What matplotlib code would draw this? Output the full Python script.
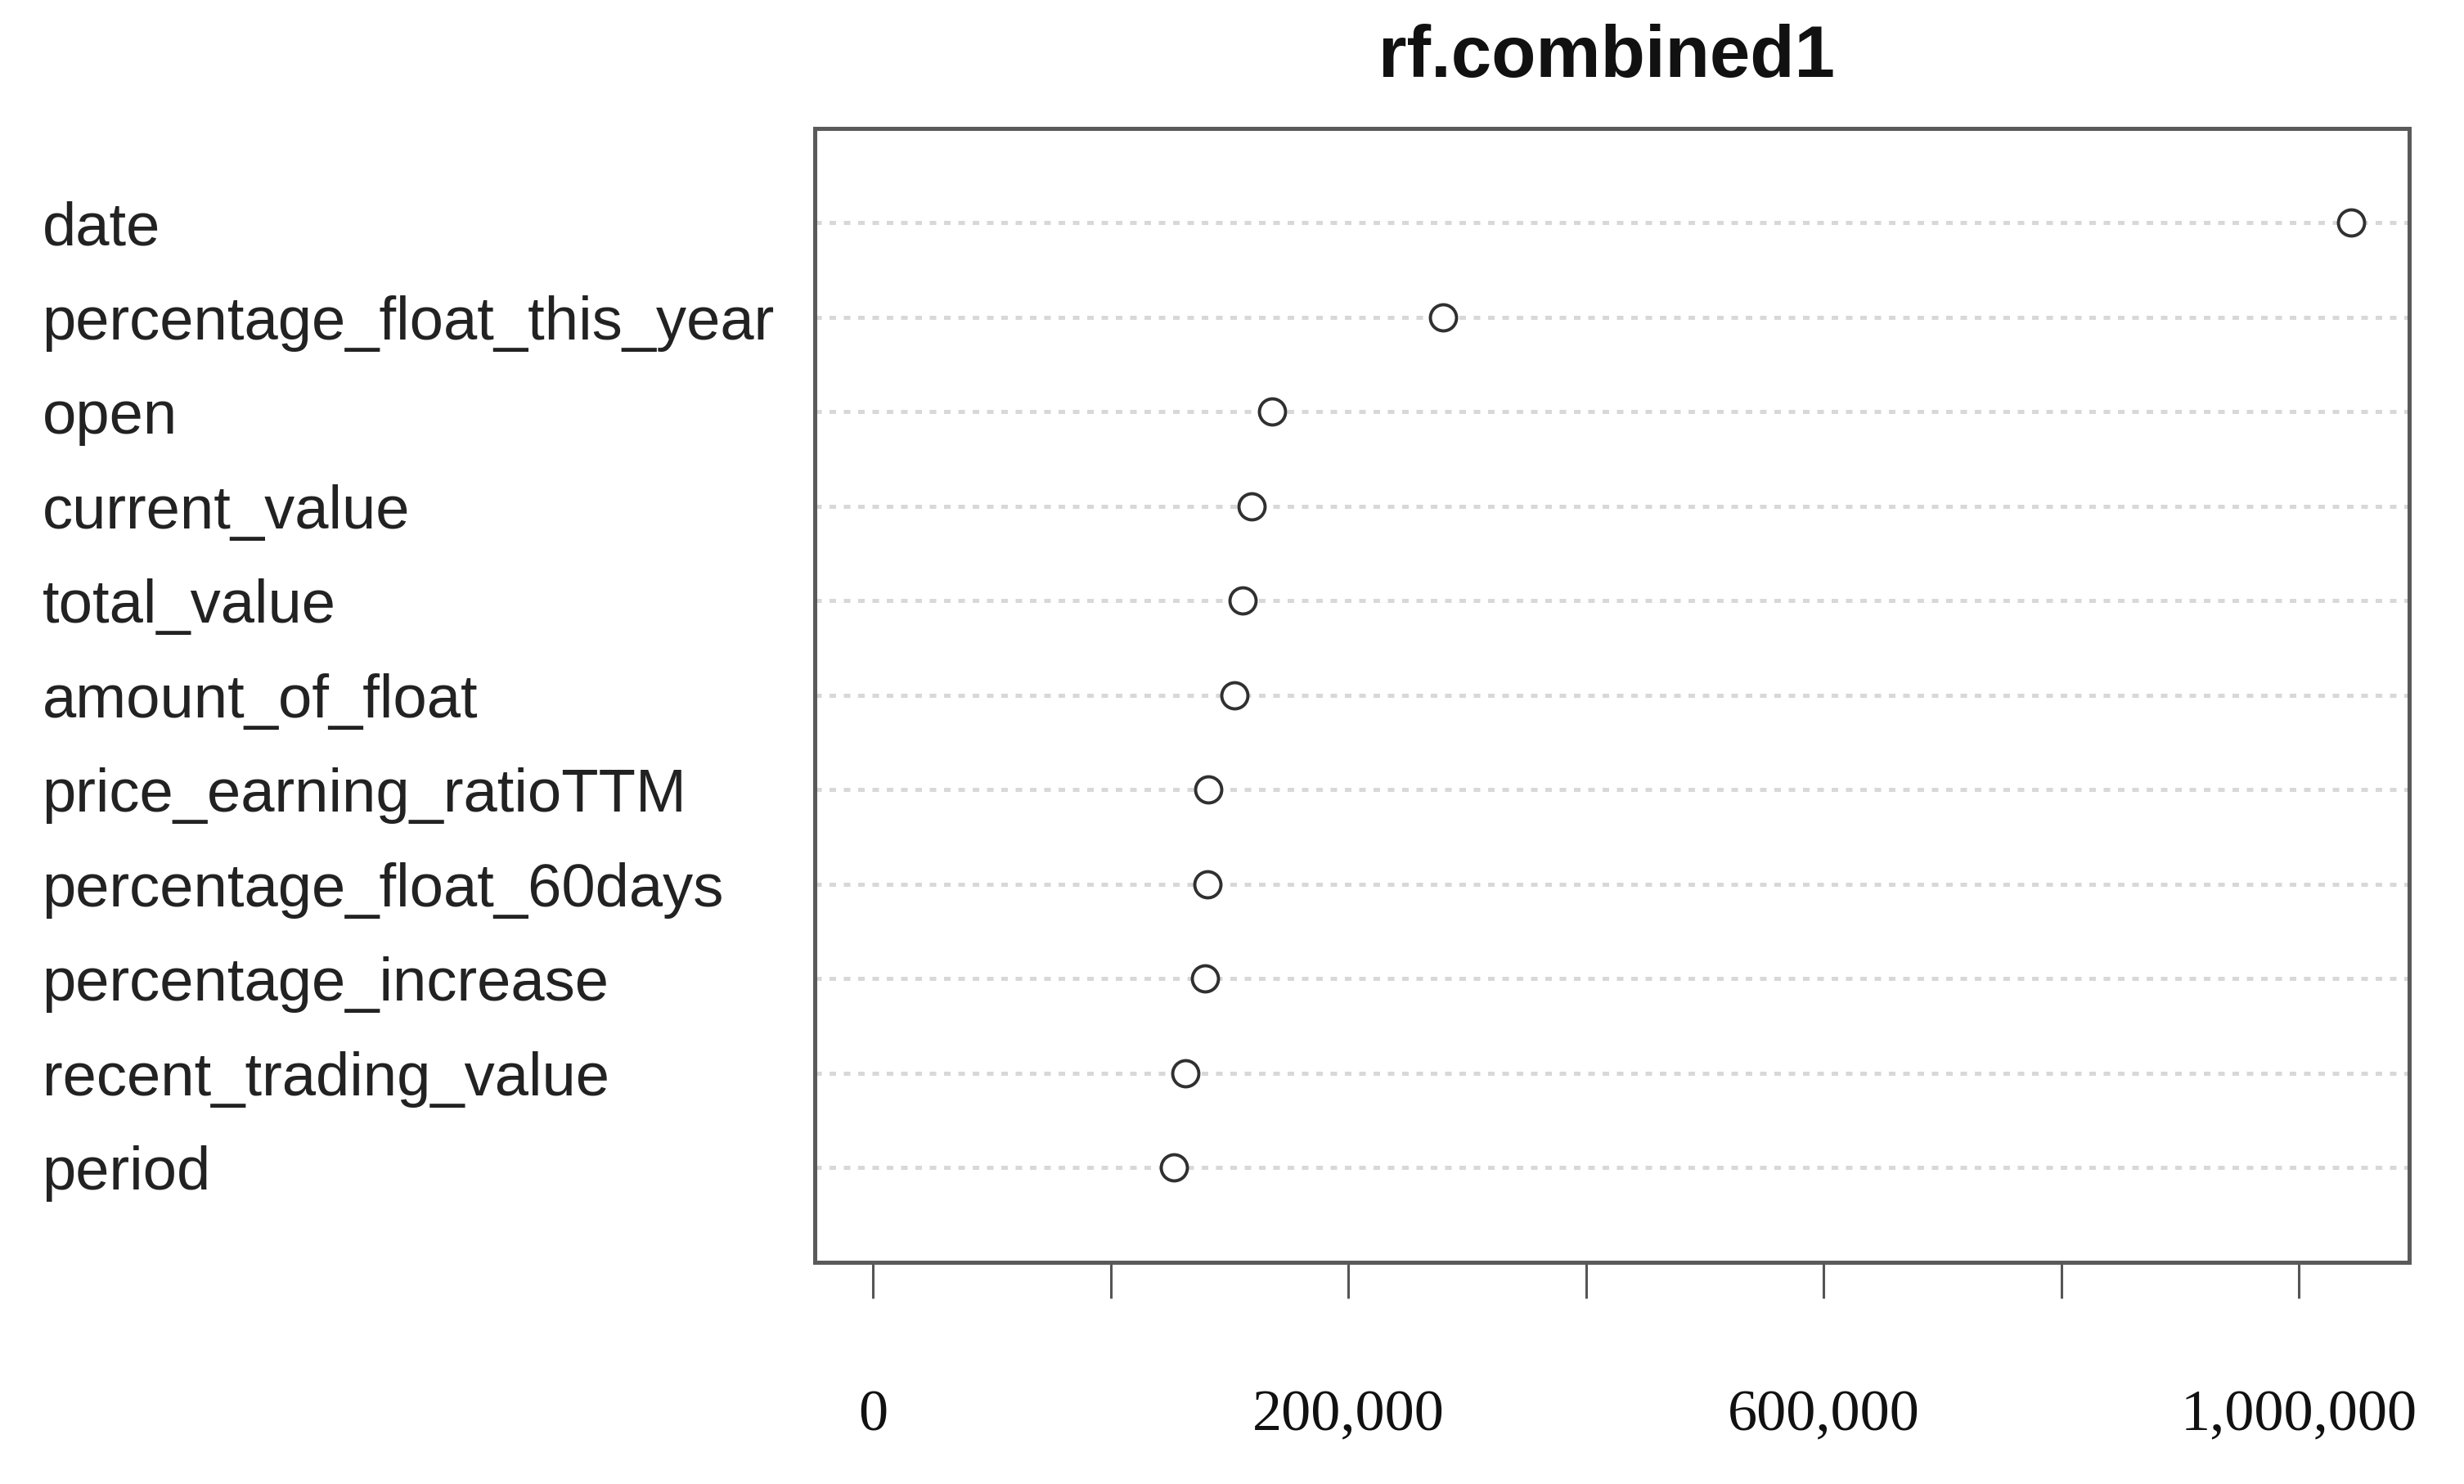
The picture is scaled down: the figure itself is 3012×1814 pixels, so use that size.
import matplotlib.pyplot as plt

# variable importance, top to bottom as in the chart
features = ['date', 'percentage_float_this_year', 'open', 'current_value',
            'total_value', 'amount_of_float', 'price_earning_ratioTTM',
            'percentage_float_60days', 'percentage_increase',
            'recent_trading_value', 'period']
importance = [1244000, 480000, 336000, 318500, 311000, 304500,
              282000, 281800, 279500, 263000, 253500]

# tick marks and the labels printed under them
tick_values = [0, 200000, 400000, 600000, 800000, 1000000, 1200000]
tick_labels = ['0', '', '200,000', '', '600,000', '', '1,000,000']

fig = plt.figure(figsize=(30.12, 18.14), dpi=100)
ax = fig.add_axes([0.3307, 0.1494, 0.6471, 0.7641])

n = len(features)
ypos = list(range(n, 0, -1))

# dotted guide lines
for y in ypos:
    ax.axhline(y, color='#d8d8d8', lw=3.6, ls=(0, (1.6, 1.9)), zorder=1)

ax.plot(importance, ypos, ls='none', marker='o', ms=23, mfc='white',
        mec='#303030', mew=2.8, zorder=3)

ax.set_xlim(-48900, 1293000)
ax.set_ylim(0, n + 1)

for side in ax.spines.values():
    side.set_color('#5a5a5a')
    side.set_linewidth(3.6)

ax.set_xticks(tick_values)
ax.set_xticklabels(tick_labels, family='Liberation Serif', fontsize=52,
                   color='#111111')
ax.tick_params(axis='x', length=32, width=2.2, color='#555555', pad=80)

ax.set_yticks(ypos)
ax.set_yticklabels(features, family='Liberation Sans', fontsize=53.5,
                   color='#222222')
ax.tick_params(axis='y', length=0, pad=680)
for lab in ax.get_yticklabels():
    lab.set_horizontalalignment('left')

fig.text(0.652, 0.961, 'rf.combined1', ha='center', va='center',
         family='Liberation Sans', fontweight='bold', fontsize=64,
         color='#111111')

fig.savefig('out.png', dpi=100, facecolor='white')
